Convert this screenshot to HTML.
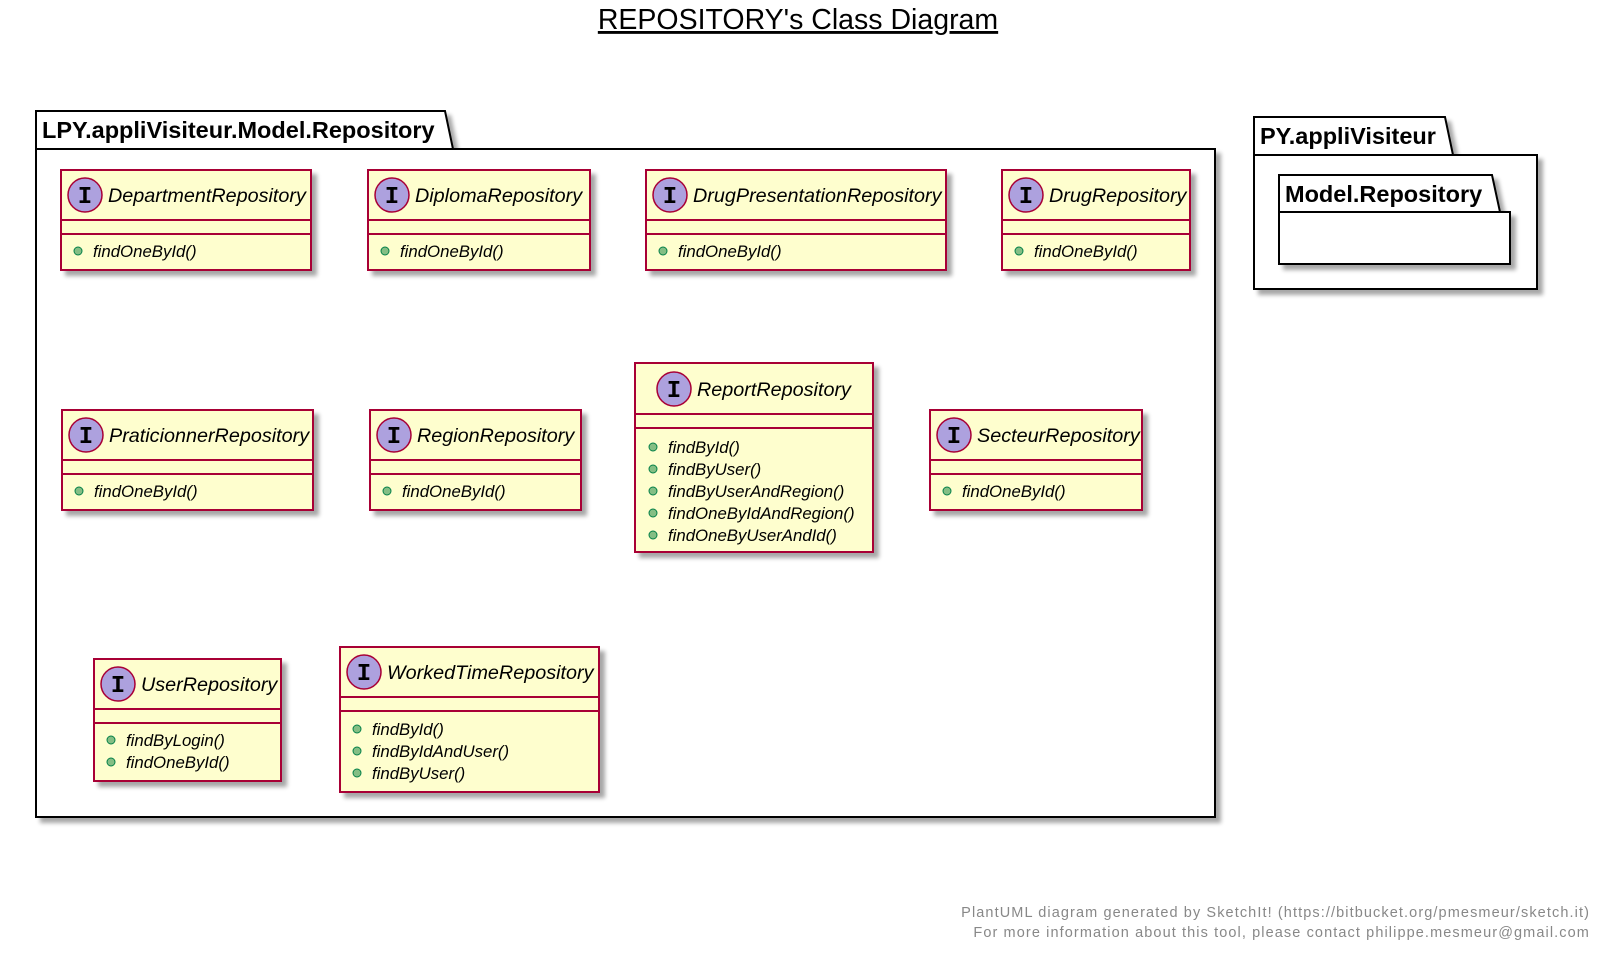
<!DOCTYPE html>
<html><head><meta charset="utf-8"><style>
body{margin:0;background:#fff;}
svg{display:block;font-family:"Liberation Sans",sans-serif;}
.cn{font-style:italic;font-size:19.8px;fill:#000;}
.m{font-style:italic;font-size:16.8px;fill:#000;}
.pk{font-weight:bold;font-size:23.5px;fill:#000;}
.box{fill:#FEFECE;stroke:#A80036;stroke-width:2;}
.ln{stroke:#A80036;stroke-width:2;}
.ci{fill:#ADA1DE;stroke:#A80036;stroke-width:1.5;}
.ii{font-family:"Liberation Mono",monospace;font-weight:bold;font-size:24px;fill:#000;}
.b{fill:#84BE84;stroke:#038048;stroke-width:1;}
</style></head><body>
<svg width="1606" height="955" viewBox="0 0 1606 955" xmlns="http://www.w3.org/2000/svg">
<defs><filter id="sh" x="-10%" y="-10%" width="130%" height="130%"><feGaussianBlur in="SourceAlpha" stdDeviation="2"/><feOffset dx="5" dy="5"/><feComponentTransfer><feFuncA type="linear" slope="0.35"/></feComponentTransfer><feMerge><feMergeNode/><feMergeNode in="SourceGraphic"/></feMerge></filter></defs>
<text x="798" y="29" text-anchor="middle" font-size="28.5" text-decoration="underline" fill="#000">REPOSITORY's Class Diagram</text>

<g filter="url(#sh)">
<path d="M36,111 H445 L453,149 H1215 V817 H36 Z" fill="#fff" stroke="#000" stroke-width="2"/>
</g>
<line x1="36" y1="149" x2="453" y2="149" stroke="#000" stroke-width="2"/>
<text class="pk" x="42" y="138">LPY.appliVisiteur.Model.Repository</text>

<g filter="url(#sh)">
<path d="M1254,117 H1445 L1453,155 H1537 V289 H1254 Z" fill="#fff" stroke="#000" stroke-width="2"/>
</g>
<line x1="1254" y1="155" x2="1453" y2="155" stroke="#000" stroke-width="2"/>
<text class="pk" x="1260" y="144">PY.appliVisiteur</text>
<g filter="url(#sh)">
<path d="M1279,175 H1492 L1500,212 H1510 V264 H1279 Z" fill="#fff" stroke="#000" stroke-width="2"/>
</g>
<line x1="1279" y1="212" x2="1500" y2="212" stroke="#000" stroke-width="2"/>
<text class="pk" x="1285" y="202">Model.Repository</text>

<rect class="box" filter="url(#sh)" x="61" y="170" width="250" height="100"/>
<line class="ln" x1="61" y1="220" x2="311" y2="220"/><line class="ln" x1="61" y1="234" x2="311" y2="234"/>
<circle class="ci" cx="85" cy="195" r="17"/><text class="ii" x="85" y="203" text-anchor="middle">I</text>
<text class="cn" x="108" y="202">DepartmentRepository</text>
<circle class="b" cx="78" cy="251" r="4"/><text class="m" x="93" y="257">findOneById()</text>

<rect class="box" filter="url(#sh)" x="368" y="170" width="222" height="100"/>
<line class="ln" x1="368" y1="220" x2="590" y2="220"/><line class="ln" x1="368" y1="234" x2="590" y2="234"/>
<circle class="ci" cx="392" cy="195" r="17"/><text class="ii" x="392" y="203" text-anchor="middle">I</text>
<text class="cn" x="415" y="202">DiplomaRepository</text>
<circle class="b" cx="385" cy="251" r="4"/><text class="m" x="400" y="257">findOneById()</text>

<rect class="box" filter="url(#sh)" x="646" y="170" width="300" height="100"/>
<line class="ln" x1="646" y1="220" x2="946" y2="220"/><line class="ln" x1="646" y1="234" x2="946" y2="234"/>
<circle class="ci" cx="670" cy="195" r="17"/><text class="ii" x="670" y="203" text-anchor="middle">I</text>
<text class="cn" x="693" y="202">DrugPresentationRepository</text>
<circle class="b" cx="663" cy="251" r="4"/><text class="m" x="678" y="257">findOneById()</text>

<rect class="box" filter="url(#sh)" x="1002" y="170" width="188" height="100"/>
<line class="ln" x1="1002" y1="220" x2="1190" y2="220"/><line class="ln" x1="1002" y1="234" x2="1190" y2="234"/>
<circle class="ci" cx="1026" cy="195" r="17"/><text class="ii" x="1026" y="203" text-anchor="middle">I</text>
<text class="cn" x="1049" y="202">DrugRepository</text>
<circle class="b" cx="1019" cy="251" r="4"/><text class="m" x="1034" y="257">findOneById()</text>

<rect class="box" filter="url(#sh)" x="62" y="410" width="251" height="100"/>
<line class="ln" x1="62" y1="460" x2="313" y2="460"/><line class="ln" x1="62" y1="474" x2="313" y2="474"/>
<circle class="ci" cx="86" cy="435" r="17"/><text class="ii" x="86" y="443" text-anchor="middle">I</text>
<text class="cn" x="109" y="442">PraticionnerRepository</text>
<circle class="b" cx="79" cy="491" r="4"/><text class="m" x="94" y="497">findOneById()</text>

<rect class="box" filter="url(#sh)" x="370" y="410" width="211" height="100"/>
<line class="ln" x1="370" y1="460" x2="581" y2="460"/><line class="ln" x1="370" y1="474" x2="581" y2="474"/>
<circle class="ci" cx="394" cy="435" r="17"/><text class="ii" x="394" y="443" text-anchor="middle">I</text>
<text class="cn" x="417" y="442">RegionRepository</text>
<circle class="b" cx="387" cy="491" r="4"/><text class="m" x="402" y="497">findOneById()</text>

<rect class="box" filter="url(#sh)" x="930" y="410" width="212" height="100"/>
<line class="ln" x1="930" y1="460" x2="1142" y2="460"/><line class="ln" x1="930" y1="474" x2="1142" y2="474"/>
<circle class="ci" cx="954" cy="435" r="17"/><text class="ii" x="954" y="443" text-anchor="middle">I</text>
<text class="cn" x="977" y="442">SecteurRepository</text>
<circle class="b" cx="947" cy="491" r="4"/><text class="m" x="962" y="497">findOneById()</text>

<rect class="box" filter="url(#sh)" x="635" y="363" width="238" height="189"/>
<line class="ln" x1="635" y1="414" x2="873" y2="414"/><line class="ln" x1="635" y1="428" x2="873" y2="428"/>
<circle class="ci" cx="674" cy="389" r="17"/><text class="ii" x="674" y="397" text-anchor="middle">I</text>
<text class="cn" x="697" y="396">ReportRepository</text>
<circle class="b" cx="653" cy="447" r="4"/><text class="m" x="668" y="453">findById()</text>
<circle class="b" cx="653" cy="469" r="4"/><text class="m" x="668" y="475">findByUser()</text>
<circle class="b" cx="653" cy="491" r="4"/><text class="m" x="668" y="497">findByUserAndRegion()</text>
<circle class="b" cx="653" cy="513" r="4"/><text class="m" x="668" y="519">findOneByIdAndRegion()</text>
<circle class="b" cx="653" cy="535" r="4"/><text class="m" x="668" y="541">findOneByUserAndId()</text>

<rect class="box" filter="url(#sh)" x="94" y="659" width="187" height="122"/>
<line class="ln" x1="94" y1="709" x2="281" y2="709"/><line class="ln" x1="94" y1="723" x2="281" y2="723"/>
<circle class="ci" cx="118" cy="684" r="17"/><text class="ii" x="118" y="692" text-anchor="middle">I</text>
<text class="cn" x="141" y="691">UserRepository</text>
<circle class="b" cx="111" cy="740" r="4"/><text class="m" x="126" y="746">findByLogin()</text>
<circle class="b" cx="111" cy="762" r="4"/><text class="m" x="126" y="768">findOneById()</text>

<rect class="box" filter="url(#sh)" x="340" y="647" width="259" height="145"/>
<line class="ln" x1="340" y1="697" x2="599" y2="697"/><line class="ln" x1="340" y1="711" x2="599" y2="711"/>
<circle class="ci" cx="364" cy="672" r="17"/><text class="ii" x="364" y="680" text-anchor="middle">I</text>
<text class="cn" x="387" y="679">WorkedTimeRepository</text>
<circle class="b" cx="357" cy="729" r="4"/><text class="m" x="372" y="735">findById()</text>
<circle class="b" cx="357" cy="751" r="4"/><text class="m" x="372" y="757">findByIdAndUser()</text>
<circle class="b" cx="357" cy="773" r="4"/><text class="m" x="372" y="779">findByUser()</text>

<text x="1590" y="917" text-anchor="end" font-size="14.5" fill="#888" letter-spacing="1.1">PlantUML diagram generated by SketchIt! (https://bitbucket.org/pmesmeur/sketch.it)</text>
<text x="1590" y="937" text-anchor="end" font-size="14.5" fill="#888" letter-spacing="1.1">For more information about this tool, please contact philippe.mesmeur@gmail.com</text>
</svg>
</body></html>
